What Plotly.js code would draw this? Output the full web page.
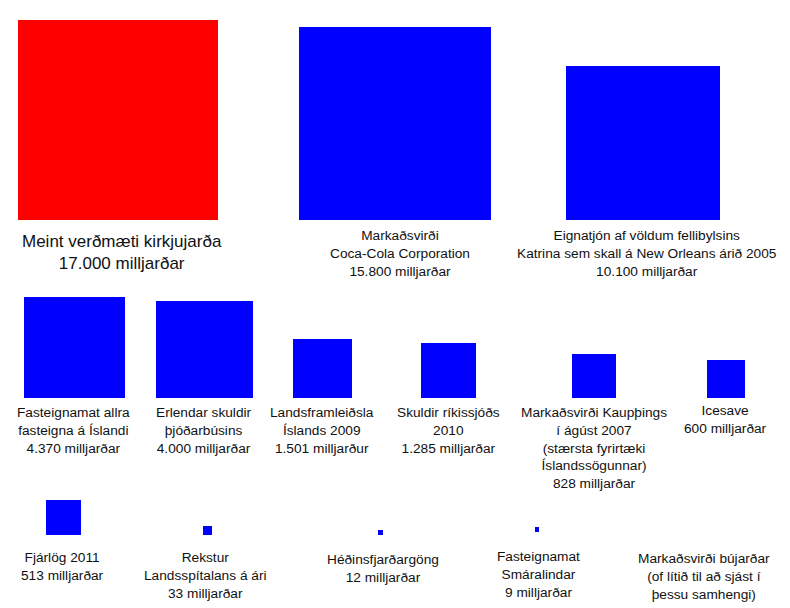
<!DOCTYPE html>
<html>
<head>
<meta charset="utf-8">
<script src="https://cdn.plot.ly/plotly-3.0.1.min.js"></script>
<style>html,body{margin:0;padding:0;background:#fff;}#chart{width:790px;height:608px;}</style>
</head>
<body>
<div id="chart"></div>
<script>
// ---- data ----
const categories = [
  "Meint verðmæti kirkjujarða",
  "Markaðsvirði<br>Coca-Cola Corporation",
  "Eignatjón af völdum fellibylsins<br>Katrina sem skall á New Orleans árið 2005",
  "Fasteignamat allra<br>fasteigna á Íslandi",
  "Erlendar skuldir<br>þjóðarbúsins",
  "Landsframleiðsla<br>Íslands 2009",
  "Skuldir ríkissjóðs<br>2010",
  "Markaðsvirði Kaupþings<br>í ágúst 2007<br>(stærsta fyrirtæki<br>Íslandssögunnar)",
  "Icesave",
  "Fjárlög 2011",
  "Rekstur<br>Landsspítalans á ári",
  "Héðinsfjarðargöng",
  "Fasteignamat<br>Smáralindar",
  "Markaðsvirði bújarðar<br>(of lítið til að sjást í<br>þessu samhengi)"
];
const values = [17000, 15800, 10100, 4370, 4000, 1501, 1285, 828, 600, 513, 33, 12, 9, null];
const highlight = [true, false, false, false, false, false, false, false, false, false, false, false, false, false];

// ---- layout (positions in pixels) ----
const W = 790, H = 608;
const maxSide = 200;           // side of the largest square
const squareCx = [118, 395, 643, 74.5, 204.5, 322.5, 448.5, 594, 726, 63.5, 207.5, 380.5, 537, 704];
const squareBottom = [220, 220, 220, 398, 398, 398, 398, 398, 398, 535, 535, 535, 532, 535];
const labelCx = [122, 400, 647, 73, 204, 322, 448, 594, 725, 62.5, 205, 383, 538, 704];
const labelTop = [230, 226, 226, 403, 403, 403, 403, 403, 401, 548, 548, 550, 547, 549];
const labelSize = [17, 13.7, 13.7, 13.7, 13.7, 13.7, 13.7, 13.7, 13.7, 13.7, 13.7, 13.7, 13.7, 13.7];

function fmt(v) { return String(v).replace(/\B(?=(\d{3})+(?!\d))/g, '.'); }
function unit(v) { return (v % 10 === 1 && v % 100 !== 11) ? 'milljarður' : 'milljarðar'; }

const idx = values.map((v, i) => i).filter(i => values[i] != null);
const side = i => maxSide * Math.sqrt(values[i] / values[0]);

const trace = {
  type: 'bar',
  x: idx.map(i => squareCx[i]),
  y: idx.map(i => side(i)),
  base: idx.map(i => H - squareBottom[i]),
  width: idx.map(i => side(i)),
  marker: { color: idx.map(i => highlight[i] ? '#ff0000' : '#0000ff'), line: { width: 0 } },
  hoverinfo: 'skip',
  showlegend: false
};

const annotations = categories.map((name, i) => ({
  x: labelCx[i], y: H - labelTop[i], xref: 'x', yref: 'y',
  xanchor: 'center', yanchor: 'top', showarrow: false, align: 'center',
  text: values[i] != null ? name + '<br>' + fmt(values[i]) + ' ' + unit(values[i]) : name,
  font: { family: 'Liberation Sans, Arial, sans-serif', size: labelSize[i], color: '#111' }
}));

const layout = {
  width: W, height: H,
  margin: { l: 0, r: 0, t: 0, b: 0, pad: 0 },
  paper_bgcolor: '#ffffff', plot_bgcolor: '#ffffff',
  xaxis: { range: [0, W], visible: false, fixedrange: true },
  yaxis: { range: [0, H], visible: false, fixedrange: true },
  annotations: annotations,
  bargap: 0
};

Plotly.newPlot('chart', [trace], layout, { displayModeBar: false, staticPlot: true });
</script>
</body>
</html>
